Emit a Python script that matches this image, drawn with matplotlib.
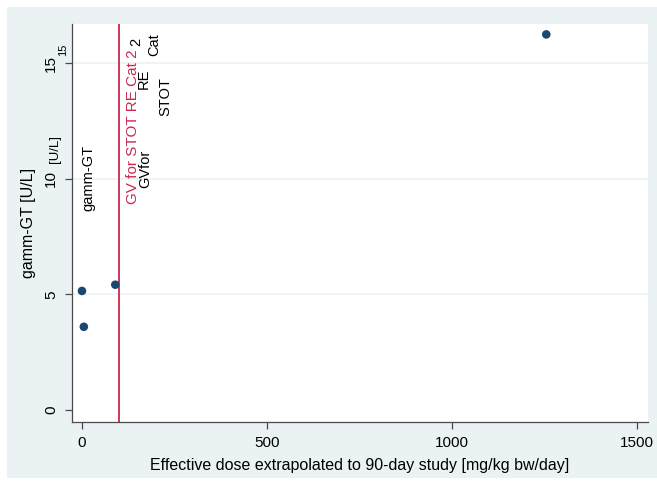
import matplotlib
matplotlib.use('Agg')
import matplotlib.pyplot as plt
from matplotlib.patches import Rectangle

plt.rcParams['font.family'] = ['Liberation Sans', 'DejaVu Sans']

BG = '#eaf2f3'
NAVY = '#1a476f'
RED = '#c8284e'
SPINE = '#4a4a4a'

# data
dose = [0, 5, 90, 1255]
ggt = [5.15, 3.6, 5.42, 16.25]
gv_line = 100
xticks = [0, 500, 1000, 1500]
yticks = [0, 5, 10, 15]

W, H = 657, 482
fig = plt.figure(figsize=(W / 100, H / 100), dpi=100)
fig.patches.append(Rectangle((7 / W, 4 / H), 650 / W, 471 / H, transform=fig.transFigure,
                             facecolor=BG, edgecolor='none', zorder=-10))
ax = fig.add_axes([72 / W, (H - 422) / H, (648 - 72) / W, (422 - 24) / H])
ax.set_facecolor('white')

ax.set_xlim(-27, 1530)
ax.set_ylim(-0.52, 16.7)
for y in yticks[1:]:
    ax.axhline(y, color=BG, lw=1.2, zorder=1)

ax.axvline(gv_line, color=RED, lw=1.3, zorder=2)
ax.scatter(dose, ggt, s=38, color=NAVY, zorder=3, edgecolors='none')

# labels (double-printed like the source)
ax.text(138, 8.9, 'GV for STOT RE Cat 2', rotation=90, color=RED, fontsize=11,
        ha='center', va='bottom', zorder=4)
ax.text(16, 8.6, 'gamm-GT', rotation=90, fontsize=10.5, ha='center', va='bottom')
ax.text(172, 9.6, 'GVfor', rotation=90, fontsize=10.5, ha='center', va='bottom')
ax.text(166, 13.9, 'RE', rotation=90, fontsize=10.5, ha='center', va='bottom')
ax.text(226, 12.7, 'STOT', rotation=90, fontsize=10.5, ha='center', va='bottom')
ax.text(194, 15.3, 'Cat', rotation=90, fontsize=10.5, ha='center', va='bottom')
ax.text(148, 15.75, '2', rotation=90, fontsize=10.5, ha='center', va='bottom')

ax.set_xticks(xticks)
ax.set_xticklabels([str(v) for v in xticks], fontsize=11)
ax.set_yticks(yticks)
ax.set_yticklabels([str(v) for v in yticks], fontsize=11, rotation=90, va='center')
ax.tick_params(axis='both', length=5, width=0.9, color=SPINE, pad=5)
for s in ('top', 'right'):
    ax.spines[s].set_visible(False)
for s in ('left', 'bottom'):
    ax.spines[s].set_color(SPINE)
    ax.spines[s].set_linewidth(0.9)

ax.set_ylabel('gamm-GT [U/L]', fontsize=11.5, labelpad=6)
ax.set_xlabel('Effective dose extrapolated to 90-day study [mg/kg bw/day]', fontsize=11.5, labelpad=6)

# ghost tick texts
ax.text(-52, 15.6, '15', rotation=90, fontsize=8, ha='center', va='center', clip_on=False)
ax.text(-72, 11.3, '[U/L]', rotation=90, fontsize=9.5, ha='center', va='center', clip_on=False)

fig.savefig('out.png', dpi=100, facecolor='white')
